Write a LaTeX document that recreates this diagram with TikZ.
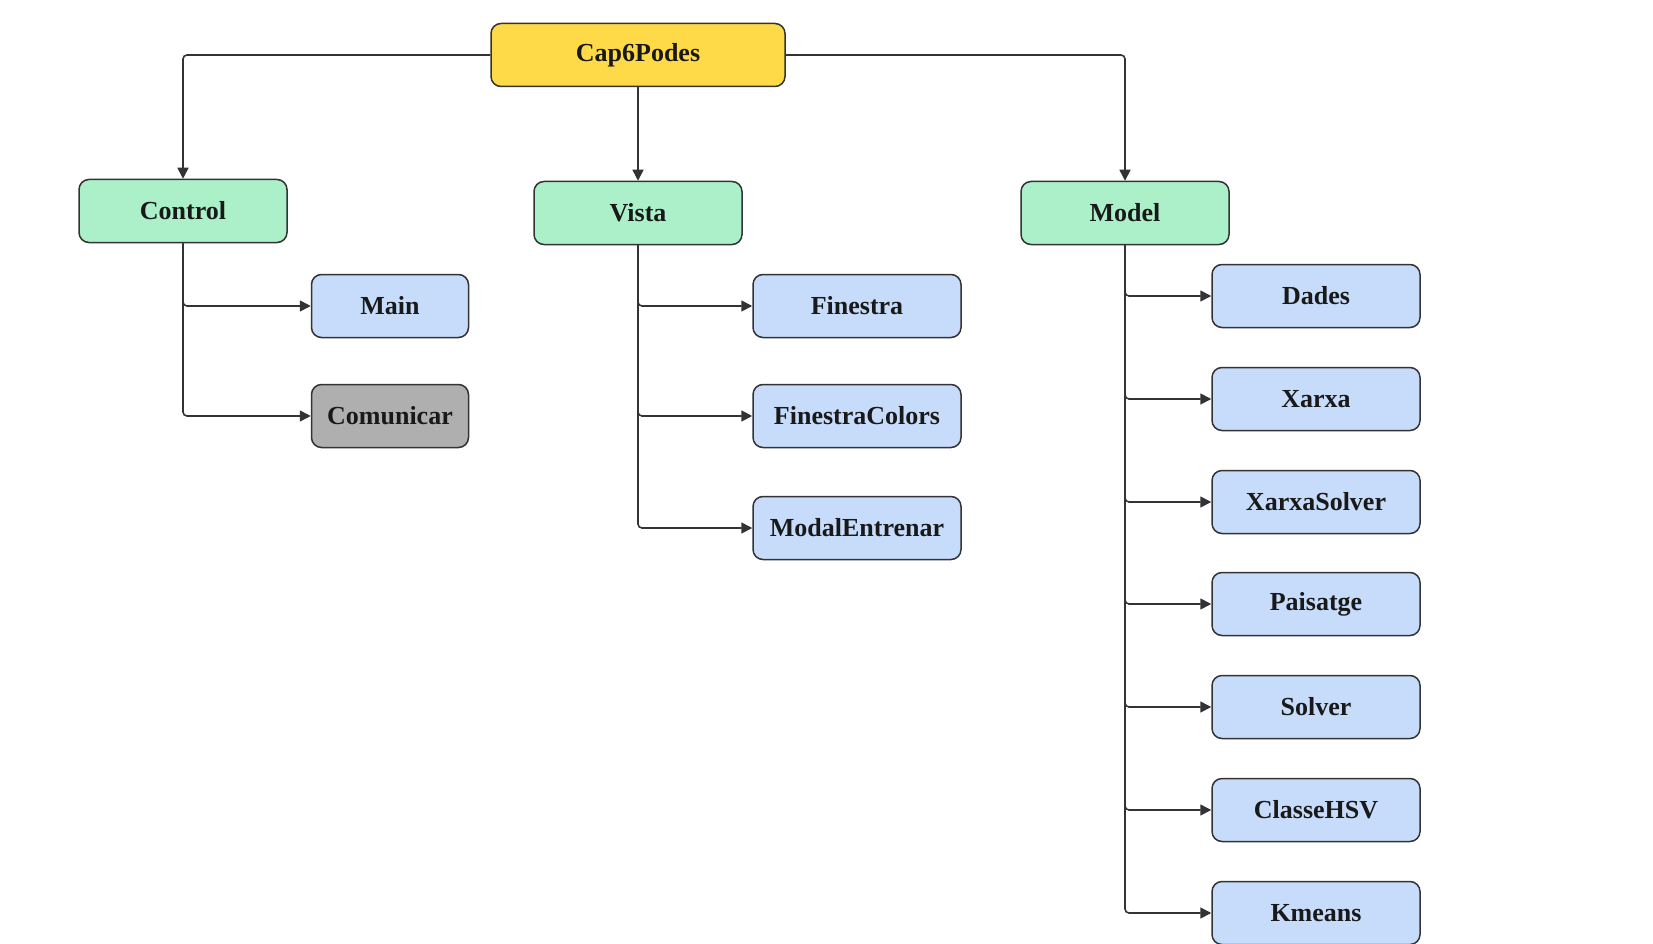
\documentclass[tikz,border=0pt]{standalone}
\usepackage{fontspec}
\setmainfont{Liberation Serif}
\usetikzlibrary{arrows.meta}
\definecolor{capfill}{RGB}{255,218,72}
\definecolor{layerfill}{RGB}{171,240,200}
\definecolor{classfill}{RGB}{198,220,250}
\definecolor{greyfill}{RGB}{175,175,175}
\definecolor{edge}{RGB}{51,51,51}
\begin{document}
\begin{tikzpicture}[x=1pt, y=-1pt,
    box/.style={draw=edge, line width=1.5pt, rounded corners=10pt, minimum width=208pt, minimum height=63pt,
                font=\fontsize{26}{30}\selectfont\bfseries, text=black!90},
    link/.style={draw=edge, line width=1.6pt, rounded corners=4pt, -{Triangle[length=11pt,width=11pt]}}]
    \useasboundingbox (0,0) rectangle (1653,944);
    % top level
    \node[box, fill=capfill, minimum width=294pt] (cap) at (638,55) {Cap6Podes};
    \node[box, fill=layerfill] (control) at (183,211) {Control};
    \node[box, fill=layerfill] (vista) at (638,213) {Vista};
    \node[box, fill=layerfill] (model) at (1125,213) {Model};
    \draw[link] (cap.west) -| (control.north);
    \draw[link] (cap.south) -- (vista.north);
    \draw[link] (cap.east) -| (model.north);
    % control
    \node[box, fill=classfill, minimum width=157pt] (Main) at (390,306) {Main};
    \node[box, fill=greyfill, minimum width=157pt] (Comunicar) at (390,416) {Comunicar};
    \foreach \n in {Main,Comunicar} \draw[link] (control.south) |- (\n.west);
    % vista
    \foreach \n/\y in {Finestra/306, FinestraColors/416, ModalEntrenar/528} {
        \node[box, fill=classfill] (\n) at (857,\y) {\n};
        \draw[link] (vista.south) |- (\n.west);
    }
    % model
    \foreach \n/\y in {Dades/296, Xarxa/399, XarxaSolver/502, Paisatge/604, Solver/707, ClasseHSV/810, Kmeans/913} {
        \node[box, fill=classfill] (\n) at (1316,\y) {\n};
        \draw[link] (model.south) |- (\n.west);
    }
\end{tikzpicture}
\end{document}
